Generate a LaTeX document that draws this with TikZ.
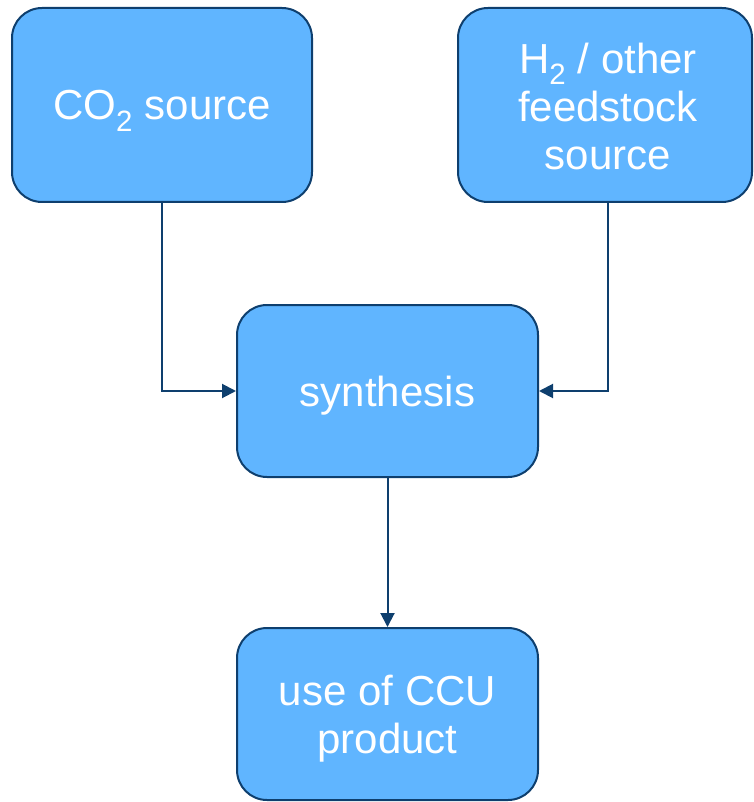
\documentclass[tikz,border=0pt]{standalone}
\usepackage{fontspec}
\setmainfont{Liberation Sans}
\usetikzlibrary{arrows.meta}
\definecolor{boxfill}{HTML}{60B5FF}
\definecolor{boxline}{HTML}{0E3F6E}
\tikzset{
  procbox/.style={draw=boxline, line width=2pt, fill=boxfill, rounded corners=30pt,
    inner sep=0pt},
  boxtext/.style={text=white, align=center, inner sep=0pt,
    font=\fontsize{42}{48}\selectfont},
  flow/.style={draw=boxline, line width=2pt,
    -{Triangle[length=14pt,width=14pt]}},
}
\begin{document}
\begin{tikzpicture}[x=1pt,y=-1pt]
  \useasboundingbox (0,0) rectangle (753,802);
  % input sources
  \node[procbox, minimum width=300pt, minimum height=194pt] (co2) at (162,105) {};
  \node[boxtext] (co2txt) at ([yshift=-6pt]co2.center) {CO\textsubscript{2} source};
  \node[procbox, minimum width=294pt, minimum height=194pt] (h2) at (605,105) {};
  \node[boxtext] (h2txt) at ([xshift=3pt,yshift=-1pt]h2.center) {H\textsubscript{2} / other\\feedstock\\source};
  % conversion step
  \node[procbox, minimum width=301pt, minimum height=172pt] (syn) at (387.5,391) {};
  \node[boxtext] (syntxt) at ([yshift=-5pt]syn.center) {synthesis};
  % product
  \node[procbox, minimum width=301pt, minimum height=172pt] (use) at (387.5,714) {};
  \node[boxtext] (usetxt) at ([yshift=-5pt]use.center) {use of CCU\\product};
  % connectors
  \draw[flow] (co2.south) |- (syn.west);
  \draw[flow] (h2.south) ++(3,0) coordinate (h2out) |- (syn.east);
  \draw[flow] (syn.south) -- (use.north);
\end{tikzpicture}
\end{document}
